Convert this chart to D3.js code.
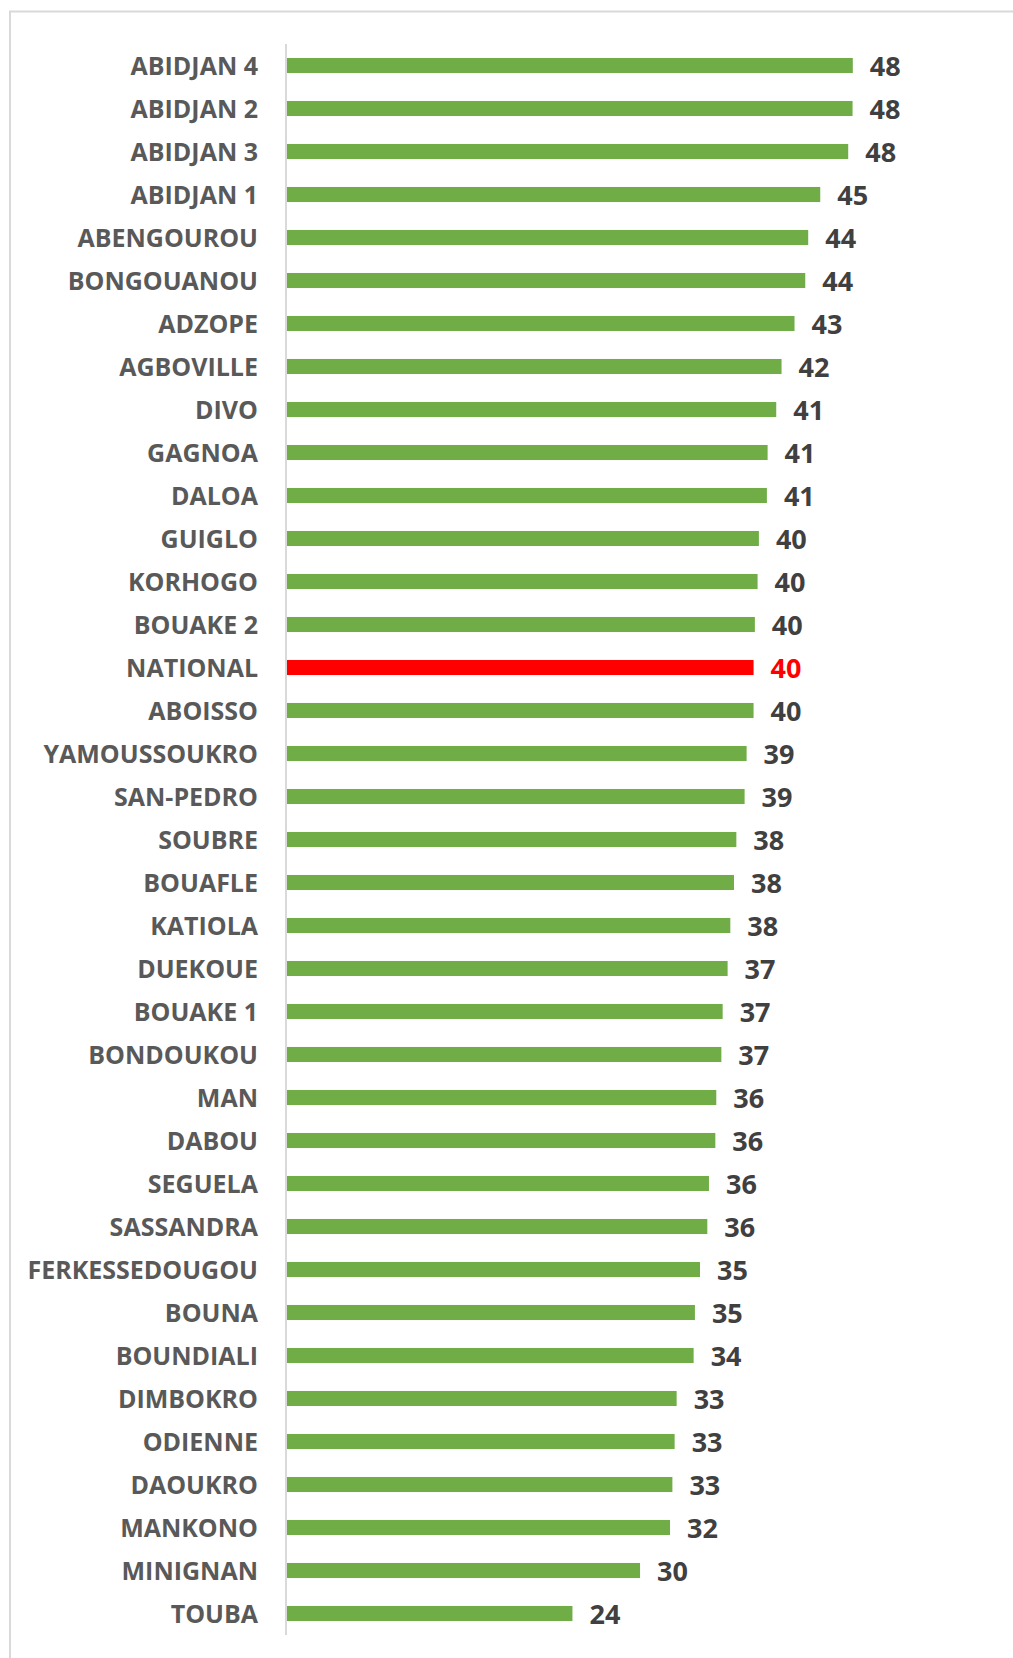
<!DOCTYPE html>
<html>
<head>
<meta charset="utf-8">
<script src="https://cdn.jsdelivr.net/npm/d3@7"></script>
<style>
  html, body { margin: 0; padding: 0; background: #fff; }
  svg { display: block; }
</style>
</head>
<body>
<svg id="chart" width="1013" height="1658"></svg>
<script>

// DATA ========================================================================

var districts = [
    'ABIDJAN 4', 'ABIDJAN 2', 'ABIDJAN 3', 'ABIDJAN 1', 'ABENGOUROU',
    'BONGOUANOU', 'ADZOPE', 'AGBOVILLE', 'DIVO', 'GAGNOA', 'DALOA', 'GUIGLO',
    'KORHOGO', 'BOUAKE 2', 'NATIONAL', 'ABOISSO', 'YAMOUSSOUKRO', 'SAN-PEDRO',
    'SOUBRE', 'BOUAFLE', 'KATIOLA', 'DUEKOUE', 'BOUAKE 1', 'BONDOUKOU', 'MAN',
    'DABOU', 'SEGUELA', 'SASSANDRA', 'FERKESSEDOUGOU', 'BOUNA', 'BOUNDIALI',
    'DIMBOKRO', 'ODIENNE', 'DAOUKRO', 'MANKONO', 'MINIGNAN', 'TOUBA'];

var values = [
    47.95, 47.93, 47.56, 45.19, 44.17,
    43.92, 43.01, 41.91, 41.46, 40.73, 40.67, 39.99,
    39.88, 39.65, 39.54, 39.54, 38.95, 38.78,
    38.08, 37.88, 37.57, 37.34, 36.92, 36.81, 36.38,
    36.30, 35.76, 35.62, 35.00, 34.57, 34.46,
    33.02, 32.85, 32.66, 32.46, 29.92, 24.19];

var highlight = 'NATIONAL';

var xDomain = [0, 50];

// CHART =======================================================================

var svg = d3.select('#chart'),
    margin = {top: 44, left: 287, right: 136, bottom: 23},
    width = +svg.attr('width'),
    height = +svg.attr('height');

var data = districts.map(function(d, i) {
    return {name: d, value: values[i]};
});

var x = d3.scaleLinear()
    .domain(xDomain)
    .range([margin.left, width - margin.right]);

var y = d3.scaleBand()
    .domain(districts)
    .range([margin.top, height - margin.bottom])
    .paddingInner(0.65)
    .paddingOuter(0.325);

var fmt = d3.format('.0f');

// outer frame (runs off the right and bottom edge, as in the source)
svg.append('rect')
    .attr('x', 10)
    .attr('y', 11.5)
    .attr('width', width + 20)
    .attr('height', height + 20)
    .attr('fill', '#fff')
    .attr('stroke', '#d9d9d9')
    .attr('stroke-width', 2);

// bars
svg.append('g')
    .selectAll('rect')
    .data(data)
    .enter().append('rect')
        .attr('x', x(0))
        .attr('y', function(d) { return y(d.name); })
        .attr('width', function(d) { return x(d.value) - x(0); })
        .attr('height', y.bandwidth())
        .attr('fill', function(d) { return d.name === highlight ? '#ff0000' : '#70ad47'; });

// category axis
var yAxis = svg.append('g')
    .attr('transform', 'translate(' + (x(0) - 1) + ',0)')
    .call(d3.axisLeft(y).tickSize(0).tickPadding(28));

yAxis.select('.domain')
    .attr('stroke', '#d9d9d9')
    .attr('stroke-width', 2)
    .attr('d', 'M0,' + margin.top + 'V' + (height - margin.bottom));

yAxis.selectAll('text')
    .attr('font-family', '"Open Sans", sans-serif')
    .attr('font-size', 25)
    .attr('font-weight', 700)
    .attr('fill', '#595959')
    .attr('dy', '0.36em');

// value labels
svg.append('g')
    .selectAll('text')
    .data(data)
    .enter().append('text')
        .attr('x', function(d) { return x(d.value) + 17; })
        .attr('y', function(d) { return y(d.name) + y.bandwidth() / 2 + 10; })
        .attr('font-family', '"Open Sans", sans-serif')
        .attr('font-size', 27)
        .attr('font-weight', 700)
        .attr('fill', function(d) { return d.name === highlight ? '#ff0000' : '#404040'; })
        .text(function(d) { return fmt(d.value); });

</script>
</body>
</html>
